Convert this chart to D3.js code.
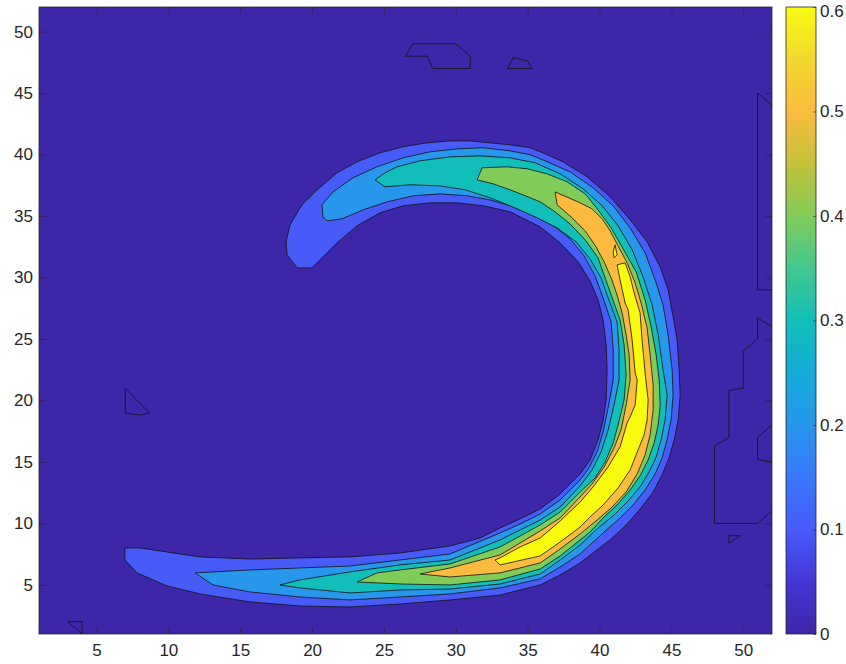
<!DOCTYPE html>
<html>
<head>
<meta charset="utf-8">
<script src="https://cdn.jsdelivr.net/npm/d3@7"></script>
<style>
  body { margin: 0; background: #fff; }
  svg { display: block; }
  text { font-family: "Liberation Sans", Arial, Helvetica, sans-serif; }
</style>
</head>
<body>
<svg id="chart" width="846" height="664"></svg>
<script>
// ---- contour data (grid units, x and y from 1 to 52) ----
const xDomain = [1, 52];
const yDomain = [1, 52];
const xTicks = [5, 10, 15, 20, 25, 30, 35, 40, 45, 50];
const yTicks = [5, 10, 15, 20, 25, 30, 35, 40, 45, 50];
const cbTicks = [0, 0.1, 0.2, 0.3, 0.4, 0.5, 0.6];
const cLim = [0, 0.6];
const levels = [0.1, 0.2, 0.3, 0.4, 0.5, 0.6];

// level 0.1 region
const ring01 = [
  [18.96,30.78],[18.26,31.84],[18.19,32.90],[18.47,34.28],[19.30,35.91],[20.35,37.13],[21.74,38.51],[23.13,39.41],
  [24.73,40.14],[26.33,40.63],[28.00,40.95],[29.60,41.11],[31.00,41.11],[32.39,40.95],[33.78,40.79],[35.17,40.55],
  [36.21,40.06],[37.46,39.41],[39.13,38.19],[40.74,36.56],[42.13,34.69],[43.31,32.90],[44.22,30.86],[44.77,28.99],
  [45.12,26.80],[45.40,24.92],[45.54,22.48],[45.61,20.45],[45.47,18.41],[45.19,16.79],[44.84,15.32],[44.35,13.94],
  [43.73,12.55],[42.89,11.25],[41.92,9.95],[40.81,8.73],[39.55,7.59],[38.65,6.78],[37.26,5.80],[35.87,4.99],
  [33.08,4.17],[29.60,3.77],[26.12,3.44],[22.64,3.20],[19.16,3.28],[15.68,3.61],[12.20,4.26],[9.91,4.91],
  [7.82,5.97],[6.98,7.02],[6.98,8.00],
  [8.03,8.00],[9.91,7.67],[12.20,7.27],[15.68,7.10],[19.16,7.19],[22.64,7.27],[26.12,7.59],[29.60,8.16],
  [31.69,8.81],[33.08,9.62],[34.47,10.36],[35.87,11.17],[37.26,12.39],[38.65,14.02],[39.34,15.15],[39.90,16.79],
  [40.25,18.41],[40.46,20.04],[40.53,22.48],[40.46,24.52],[40.25,26.55],[39.90,28.18],[39.34,29.72],[38.51,31.27],
  [37.26,32.81],[35.87,34.12],[33.78,35.34],[31.90,35.83],[30.09,36.07],[28.21,36.07],[26.33,35.83],[24.73,35.26],
  [23.13,34.20],[21.74,32.81],[19.99,30.78]
];

// level 0.2 region
const ring02 = [
  [20.69,35.91],[21.46,36.96],[22.85,38.11],[24.52,39.00],[26.33,39.73],[28.21,40.22],[30.09,40.46],[31.90,40.55],
  [33.78,40.30],[35.17,39.98],[36.21,39.49],[37.95,38.59],[39.55,37.29],[40.95,35.83],[42.13,34.03],[43.17,32.00],
  [43.87,29.80],[44.42,27.77],[44.77,25.33],[45.05,22.48],[45.12,20.45],[44.98,18.41],[44.70,16.79],[44.35,15.32],
  [43.87,14.02],[43.17,12.72],[42.34,11.49],[41.36,10.36],[40.25,9.22],[38.65,7.51],[37.26,6.45],[35.87,5.48],
  [33.08,4.75],[29.60,4.26],[26.12,4.01],[22.64,3.77],[19.16,4.01],[15.68,4.42],[13.11,4.99],[11.86,5.97],
  [15.68,6.21],[19.16,6.37],[22.64,6.53],[26.12,7.02],[29.60,7.51],[33.08,9.22],[34.47,9.95],[35.87,10.76],
  [37.26,11.90],[38.65,13.53],[39.27,14.51],[39.83,15.81],[40.25,17.44],[40.60,19.39],[40.95,21.67],[40.95,24.11],
  [40.81,26.39],[40.25,28.34],[39.69,30.13],[38.93,31.76],[37.95,33.14],[36.70,34.28],[35.17,35.18],[33.78,35.83],
  [32.39,36.31],[30.79,36.64],[28.91,36.80],[27.03,36.64],[25.22,36.15],[23.55,35.50],[22.08,34.77],[21.04,34.60],
  [20.76,34.93]
];

// level 0.3 region
const ring03 = [
  [24.38,37.94],[25.08,38.51],[25.91,39.00],[27.52,39.49],[29.60,39.81],[31.69,39.89],[33.78,39.73],[35.52,39.33],
  [37.26,38.43],[38.86,37.21],[40.18,35.83],[41.29,34.20],[42.27,32.25],[43.03,30.05],[43.66,27.77],[44.08,25.33],
  [44.42,22.48],[44.70,20.45],[44.56,18.41],[44.28,16.79],[43.94,15.40],[43.45,14.18],[42.82,12.96],[41.99,11.82],
  [41.01,10.68],[39.90,9.62],[38.65,8.24],[37.26,7.02],[35.87,5.88],[33.08,5.07],[29.60,4.66],[26.12,4.58],
  [22.64,4.34],[19.16,4.75],[17.77,4.99],
  [19.16,5.40],[22.64,6.05],[26.12,6.62],[29.60,7.02],[33.08,8.65],[34.47,9.46],[35.87,10.27],[37.26,11.33],
  [38.65,13.04],[39.48,14.34],[40.11,15.81],[40.60,17.60],[41.01,19.63],[41.36,21.67],[41.36,24.11],[41.22,26.39],
  [40.60,28.34],[40.11,29.96],[39.34,31.51],[38.37,32.90],[37.05,34.03],[35.66,34.85],[34.13,35.66],[32.39,36.48],
  [30.65,37.13],[28.91,37.45],[26.82,37.54],[25.08,37.37]
];

// level 0.4 region
const ring04 = [
  [31.48,37.94],[31.83,38.92],[33.57,39.00],[34.96,38.84],[36.35,38.43],[37.74,37.78],[39.00,36.80],[39.90,35.50],
  [40.81,34.03],[41.64,32.33],[42.55,30.45],[43.17,28.18],[43.59,25.98],[43.94,23.70],[44.15,21.67],[44.22,19.63],
  [44.08,18.00],[43.80,16.54],[43.38,15.15],[42.82,13.86],[42.13,12.72],[41.29,11.58],[40.25,10.44],[39.34,9.30],
  [38.65,8.65],[37.26,7.35],[35.87,6.29],[33.08,5.40],[29.60,4.99],[26.12,5.07],[23.13,5.23],
  [24.52,5.97],[26.12,6.21],[29.60,6.70],[33.08,8.08],[34.47,8.97],[35.87,9.87],[37.26,10.92],[38.65,12.55],
  [39.69,13.69],[40.39,14.99],[40.95,16.54],[41.29,18.00],[41.71,20.04],[41.85,22.08],[41.71,24.52],[41.43,26.55],
  [40.88,28.34],[40.39,29.96],[39.90,31.59],[39.00,33.06],[37.95,34.36],[36.91,35.34],[35.87,36.15],[34.68,36.72],
  [33.78,37.13],[32.59,37.62]
];

// level 0.5 region
const ring05 = [
  [36.91,36.96],[38.65,36.07],[39.48,35.58],[40.18,34.77],[40.74,33.79],[41.29,32.57],[41.92,31.19],[42.48,29.56],
  [42.89,27.93],[43.31,25.90],[43.52,23.70],[43.73,21.26],[43.73,19.22],[43.52,17.19],[43.17,15.56],[42.62,14.02],
  [41.85,12.55],[40.88,11.33],[39.83,10.27],[38.65,9.14],[37.26,7.92],[35.87,6.78],[33.08,5.97],[29.60,5.64],
  [27.52,5.88],
  [28.56,6.13],[29.60,6.37],[33.08,7.43],[34.47,8.40],[35.87,9.38],[37.26,10.44],[38.65,12.15],[39.48,13.20],
  [40.32,14.59],[41.01,16.13],[41.50,17.60],[41.85,19.63],[42.13,21.67],[42.06,23.70],[41.85,25.33],[41.57,27.12],
  [41.22,28.58],[40.81,29.96],[40.32,31.27],[39.76,32.49],[39.00,33.79],[38.02,34.93],[37.05,35.91]
];

// level 0.6 regions
const ring06 = [
  [41.22,31.03],[41.78,31.19],[42.13,30.05],[42.41,28.75],[42.82,27.12],[42.96,24.92],[43.17,22.24],[43.38,20.04],
  [43.31,18.41],[43.10,17.19],[42.68,15.97],[42.13,14.34],[41.29,12.88],[40.25,11.49],[39.34,10.52],[38.65,9.70],
  [37.26,8.48],[35.87,7.35],[33.08,6.62],[32.73,7.02],
  [33.08,7.19],[34.47,8.08],[35.87,8.81],[37.26,10.19],[38.65,11.74],[39.55,12.96],[40.60,14.59],[41.43,16.22],
  [41.92,18.17],[42.13,18.66],[42.48,19.63],[42.62,21.67],[42.48,22.24],[42.27,24.92],[41.99,27.36],[41.78,27.93],
  [41.43,29.80]
];
const islet06 = [[40.95,32.08],[41.08,32.65],[41.22,31.84],[41.01,31.59]];

// zero-level contours: closed loops and lines that run into the frame
const zeroLoops = [
  [[26.5,48],[27,49],[30,49],[31,48],[31,47],[28.4,47],[28,48]],
  [[33.6,47],[34,47.9],[35,47.6],[35.3,47]],
  [[7,21],[7.9,19.9],[8.7,19],[8,18.8],[7,19]],
  [[3,2],[4,2],[4,1]],
  [[49,9],[49.8,9],[49,8.4]]
];
const zeroEdgeLines = [
  [[52,44],[51,45],[51,29],[52,29]],
  [[52,26],[51,26.7],[51,25],[50,24],[50,21],[49,20.8],[49,17],[48,16.3],[48,10],[51,10],[52,11]],
  [[52,18],[51,17],[51,15.2],[52,15]]
];

// filled regions, drawn from the lowest level upward
const filled = [
  { level: levels[0], rings: [ring01] },
  { level: levels[1], rings: [ring02] },
  { level: levels[2], rings: [ring03] },
  { level: levels[3], rings: [ring04] },
  { level: levels[4], rings: [ring05] },
  { level: levels[5], rings: [ring06, islet06] }
];

// ---- parula colormap ----
const parulaStops = [
  "#3E26A8", "#4436D6", "#475BF9", "#3A78FD", "#2796EB", "#15ABD8", "#12BEB9",
  "#44C78F", "#81CC59", "#C4C13A", "#FCBB3E", "#F2D830", "#F9FB0E"
];
const parula = d3.scaleLinear()
  .domain(parulaStops.map((_, i) => i / (parulaStops.length - 1)))
  .range(parulaStops)
  .interpolate(d3.interpolateRgb)
  .clamp(true);
const colorOf = v => parula((v - cLim[0]) / (cLim[1] - cLim[0]));

// ---- layout ----
const svg = d3.select("#chart");
const plot = { left: 39, right: 772, top: 7, bottom: 634 };
const cb = { left: 786, right: 816, top: 7, bottom: 634 };
const axisColor = "#262626";
const fontSize = 17;

const x = d3.scaleLinear().domain(xDomain).range([plot.left, plot.right]);
const y = d3.scaleLinear().domain(yDomain).range([plot.bottom, plot.top]);

svg.append("defs").append("clipPath").attr("id", "plotClip")
  .append("rect")
  .attr("x", plot.left).attr("y", plot.top)
  .attr("width", plot.right - plot.left).attr("height", plot.bottom - plot.top);

const g = svg.append("g").attr("clip-path", "url(#plotClip)");

// background = lowest level colour
g.append("rect")
  .attr("x", plot.left).attr("y", plot.top)
  .attr("width", plot.right - plot.left).attr("height", plot.bottom - plot.top)
  .attr("fill", colorOf(0));

const ringPath = d3.line().x(d => x(d[0])).y(d => y(d[1]));

filled.forEach(f => {
  f.rings.forEach(r => {
    g.append("path")
      .attr("d", ringPath(r) + "Z")
      .attr("fill", colorOf(f.level))
      .attr("stroke", "#111")
      .attr("stroke-width", 0.8)
      .attr("stroke-linejoin", "round");
  });
});

zeroLoops.forEach(r => {
  g.append("path")
    .attr("d", ringPath(r) + "Z")
    .attr("fill", "none")
    .attr("stroke", "#111")
    .attr("stroke-width", 0.8);
});
zeroEdgeLines.forEach(r => {
  g.append("path")
    .attr("d", ringPath(r))
    .attr("fill", "none")
    .attr("stroke", "#111")
    .attr("stroke-width", 0.8);
});

// ---- axes ----
const styleAxis = sel => {
  sel.select(".domain").remove();
  sel.selectAll(".tick line").attr("stroke", axisColor).attr("stroke-width", 0.6);
  sel.selectAll(".tick text").attr("fill", axisColor).style("font-size", fontSize + "px")
    .style("font-family", '"Liberation Sans", Arial, sans-serif');
};

svg.append("g").attr("transform", `translate(0,${plot.bottom})`)
  .call(d3.axisBottom(x).tickValues(xTicks).tickSize(-7).tickPadding(10).tickSizeOuter(0))
  .call(styleAxis);
svg.append("g").attr("transform", `translate(0,${plot.top})`)
  .call(d3.axisTop(x).tickValues(xTicks).tickSize(-7).tickFormat("").tickSizeOuter(0))
  .call(styleAxis);
svg.append("g").attr("transform", `translate(${plot.left},0)`)
  .call(d3.axisLeft(y).tickValues(yTicks).tickSize(-7).tickPadding(6).tickSizeOuter(0))
  .call(styleAxis);
svg.append("g").attr("transform", `translate(${plot.right},0)`)
  .call(d3.axisRight(y).tickValues(yTicks).tickSize(-7).tickFormat("").tickSizeOuter(0))
  .call(styleAxis);

svg.append("rect")
  .attr("x", plot.left).attr("y", plot.top)
  .attr("width", plot.right - plot.left).attr("height", plot.bottom - plot.top)
  .attr("fill", "none").attr("stroke", axisColor).attr("stroke-width", 0.8);

// ---- colorbar ----
const cbScale = d3.scaleLinear().domain(cLim).range([cb.bottom, cb.top]);
const grad = svg.select("defs").append("linearGradient")
  .attr("id", "cbGrad").attr("x1", 0).attr("y1", 1).attr("x2", 0).attr("y2", 0);
parulaStops.forEach((c, i) => {
  grad.append("stop").attr("offset", i / (parulaStops.length - 1)).attr("stop-color", c);
});
svg.append("rect")
  .attr("x", cb.left).attr("y", cb.top)
  .attr("width", cb.right - cb.left).attr("height", cb.bottom - cb.top)
  .attr("fill", "url(#cbGrad)");

svg.append("g").attr("transform", `translate(${cb.right},0)`)
  .call(d3.axisRight(cbScale).tickValues(cbTicks).tickSize(-3).tickPadding(4)
    .tickFormat(d => d === 0 ? "0" : d3.format(".1f")(d)).tickSizeOuter(0))
  .call(styleAxis)
  .call(sel => sel.selectAll(".tick text").filter(d => d === cLim[1]).attr("dy", "0.55em"));

svg.append("rect")
  .attr("x", cb.left).attr("y", cb.top)
  .attr("width", cb.right - cb.left).attr("height", cb.bottom - cb.top)
  .attr("fill", "none").attr("stroke", axisColor).attr("stroke-width", 0.8);
</script>
</body>
</html>
